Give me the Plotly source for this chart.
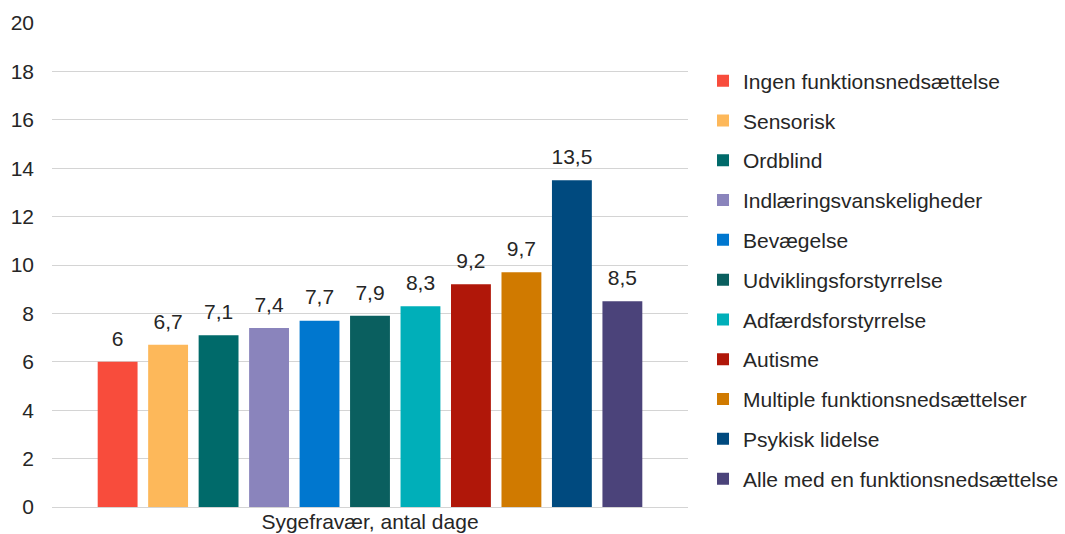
import plotly.graph_objects as go

# Sick leave days by type of disability
category = "Sygefravær, antal dage"
groups = [
    "Ingen funktionsnedsættelse",
    "Sensorisk",
    "Ordblind",
    "Indlæringsvanskeligheder",
    "Bevægelse",
    "Udviklingsforstyrrelse",
    "Adfærdsforstyrrelse",
    "Autisme",
    "Multiple funktionsnedsættelser",
    "Psykisk lidelse",
    "Alle med en funktionsnedsættelse",
]
days = [6, 6.7, 7.1, 7.4, 7.7, 7.9, 8.3, 9.2, 9.7, 13.5, 8.5]
colors = [
    "#F84C3C", "#FDB85A", "#006A6A", "#8A84BC", "#0077CF", "#0A5F5F",
    "#00AFB9", "#B01709", "#D07A00", "#004A7F", "#4B437A",
]

FONT = "Liberation Sans, Arial, sans-serif"
FS = 21
GAP = 0.127

fig = go.Figure()
for name, val, col in zip(groups, days, colors):
    fig.add_trace(go.Bar(
        x=[category], y=[val], name=name, legendgroup=name,
        offsetgroup=name,
        marker=dict(color=col, line=dict(width=0)),
        hoverinfo="name+y",
    ))

# value labels, grouped the same way as the bars so each sits over its bar
for name, val in zip(groups, days):
    fig.add_trace(go.Scatter(
        x=[category], y=[val], mode="markers+text", offsetgroup=name,
        text=[f"{val:g}".replace(".", ",")], textposition="top center",
        textfont=dict(size=FS, color="#262626", family=FONT),
        marker=dict(size=16, opacity=0), showlegend=False, hoverinfo="skip",
        cliponaxis=False,
    ))

fig.update_layout(
    width=1065, height=534,
    margin=dict(l=52, r=377, t=23, b=27, autoexpand=False),
    paper_bgcolor="white", plot_bgcolor="white",
    barmode="group", bargap=GAP, bargroupgap=0.21,
    scattermode="group", scattergap=GAP,
    separators=",.",
    font=dict(family=FONT, size=FS, color="#262626"),
    showlegend=True,
    legend=dict(
        x=1.0236, xanchor="left", y=0.469, yanchor="middle",
        font=dict(size=FS, color="#262626", family=FONT),
        tracegroupgap=9.5, itemwidth=30,
        bgcolor="rgba(0,0,0,0)",
    ),
    xaxis=dict(showline=False, ticks="", tickfont=dict(size=FS),
               automargin=False, ticklabelstandoff=0),
    yaxis=dict(
        range=[0, 20], dtick=2, tick0=0, showgrid=True, gridcolor="#D4D4D4",
        gridwidth=1, zeroline=True, zerolinecolor="#D4D4D4", zerolinewidth=1,
        showline=False, ticks="", ticklabelstandoff=17, automargin=False,
        tickfont=dict(size=FS),
    ),
)

fig.write_html("out.html")
